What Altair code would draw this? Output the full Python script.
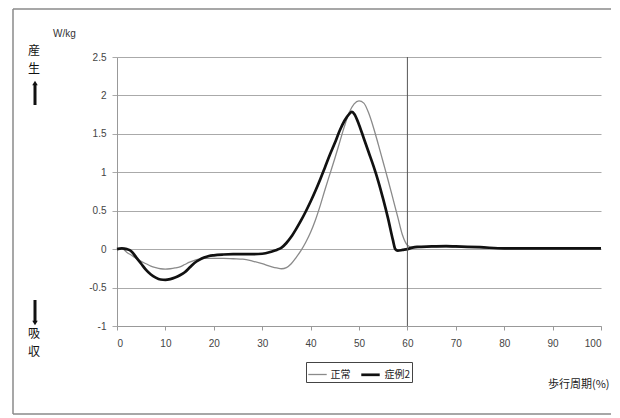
import altair as alt
import pandas as pd

# ---- data ----
series_names = ["正常", "症例2"]

x_normal = [0, 1, 2, 3, 4, 5, 6, 7, 8, 9, 10, 11, 12, 13, 14, 15, 16, 17, 18, 20, 22, 24, 26, 28, 30, 32, 33, 34, 35, 36, 37, 38, 39, 40, 41, 42, 43, 44, 45, 46, 47, 48, 49, 50, 51, 52, 53, 54, 55, 56, 57, 58, 59, 60, 61, 62, 64, 66, 68, 70, 75, 80, 85, 90, 95, 100]
y_normal = [0.01, 0.01, -0.04, -0.08, -0.12, -0.16, -0.19, -0.22, -0.24, -0.255, -0.26, -0.255, -0.245, -0.23, -0.2, -0.17, -0.145, -0.13, -0.12, -0.12, -0.12, -0.125, -0.13, -0.155, -0.19, -0.23, -0.245, -0.255, -0.24, -0.19, -0.11, -0.02, 0.09, 0.22, 0.38, 0.57, 0.78, 0.98, 1.18, 1.39, 1.6, 1.78, 1.89, 1.93, 1.9, 1.77, 1.58, 1.36, 1.13, 0.9, 0.66, 0.42, 0.18, 0.05, 0.02, 0.02, 0.03, 0.03, 0.03, 0.025, 0.02, 0.01, 0.01, 0.01, 0.01, 0.01]

x_case = [0, 1, 2, 3, 4, 5, 6, 7, 8, 9, 10, 11, 12, 13, 14, 15, 16, 17, 18, 19, 20, 22, 24, 26, 28, 30, 32, 33, 34, 35, 36, 37, 38, 39, 40, 41, 42, 43, 44, 45, 46, 47, 48, 48.5, 49, 50, 51, 52, 53, 54, 55, 56, 57, 57.5, 58, 59, 60, 61, 62, 65, 68, 70, 75, 80, 85, 90, 100]
y_case = [0.0, 0.01, 0.0, -0.03, -0.11, -0.19, -0.27, -0.33, -0.37, -0.395, -0.4, -0.39, -0.37, -0.34, -0.3, -0.24, -0.18, -0.14, -0.11, -0.09, -0.08, -0.07, -0.065, -0.065, -0.065, -0.06, -0.03, -0.01, 0.02, 0.08, 0.16, 0.26, 0.37, 0.49, 0.62, 0.76, 0.91, 1.07, 1.23, 1.38, 1.54, 1.67, 1.76, 1.785, 1.76, 1.62, 1.44, 1.26, 1.08, 0.88, 0.65, 0.4, 0.12, 0.0, -0.02, -0.01, 0.0, 0.02, 0.03, 0.035, 0.04, 0.035, 0.025, 0.01, 0.01, 0.01, 0.01]

x_ticks = [0, 10, 20, 30, 40, 50, 60, 70, 80, 90, 100]
y_ticks = [-1, -0.5, 0, 0.5, 1, 1.5, 2, 2.5]
marker_x = [60]

df = pd.concat([
    pd.DataFrame({"x": x_normal, "y": y_normal, "series": series_names[0]}),
    pd.DataFrame({"x": x_case, "y": y_case, "series": series_names[1]}),
])

JP = "Noto Sans CJK JP"
NUM = "Liberation Sans Narrow, Liberation Sans, Arial"

legend_spec = dict(
    orient="none", legendX=189, legendY=305, direction="horizontal", title=None,
    strokeColor="#444", padding=1.5, symbolType="stroke", symbolSize=340,
    labelFont=JP, labelFontSize=10, labelColor="#222", columnPadding=5,
    labelOffset=3, rowPadding=0,
)

lines = alt.Chart(df).mark_line(interpolate="monotone").encode(
    x=alt.X("x:Q", scale=alt.Scale(domain=[0, 100], nice=False),
            axis=alt.Axis(values=x_ticks, grid=False, title="歩行周期(%)",
                          titleFont=JP, titleFontSize=11, titleFontWeight="normal",
                          titleColor="#222", titleX=492, titleY=58, titleAlign="right",
                          titleBaseline="middle", labelFont=NUM, labelFontSize=10,
                          labelColor="#444", tickSize=4, tickColor="#999",
                          domainColor="#999", labelPadding=8)),
    y=alt.Y("y:Q", scale=alt.Scale(domain=[-1, 2.5], nice=False),
            axis=alt.Axis(values=y_ticks, grid=True, gridColor="#aaa", title="W/kg",
                          titleAngle=0, titleX=-53, titleY=-24, titleAlign="center",
                          titleBaseline="middle", titleFont=NUM, titleFontSize=10,
                          titleFontWeight="normal", titleColor="#333",
                          labelExpr="datum.value + ''", labelFont=NUM, labelFontSize=10,
                          labelColor="#444", tickSize=5, tickColor="#aaa",
                          domainColor="#999", labelPadding=6)),
    color=alt.Color("series:N", sort=series_names,
                    scale=alt.Scale(domain=series_names, range=["#8a8a8a", "#111111"]),
                    legend=alt.Legend(**legend_spec)),
    strokeWidth=alt.StrokeWidth("series:N", sort=series_names,
                                scale=alt.Scale(domain=series_names, range=[1.3, 2.7]),
                                legend=alt.Legend(**legend_spec)),
)

vline = alt.Chart(pd.DataFrame({"x": marker_x})).mark_rule(color="#555", strokeWidth=1).encode(x="x:Q")

one = pd.DataFrame({"a": [0]})

# outer frame: left, top and bottom edges only (right edge lies off the picture)
frame_left = alt.Chart(one).mark_rule(color="#8a8a8a", strokeWidth=1.5).encode(
    x=alt.value(-104), y=alt.value(-48), y2=alt.value(357))
frame_top = alt.Chart(one).mark_rule(color="#8a8a8a", strokeWidth=1.5).encode(
    x=alt.value(-104), x2=alt.value(494), y=alt.value(-48))
frame_bottom = alt.Chart(one).mark_rule(color="#8a8a8a", strokeWidth=1.5).encode(
    x=alt.value(-104), x2=alt.value(494), y=alt.value(357))


def jp_char(ch, ypix):
    return alt.Chart(one).mark_text(font=JP, fontSize=12, color="#111", baseline="middle").encode(
        x=alt.value(-83), y=alt.value(ypix), text=alt.value(ch))


shaft_up = alt.Chart(one).mark_rule(color="#111", strokeWidth=3).encode(
    x=alt.value(-82), y=alt.value(28), y2=alt.value(48))
head_up = alt.Chart(one).mark_point(shape="triangle-up", filled=True, color="#111", size=30, opacity=1).encode(
    x=alt.value(-82), y=alt.value(26))
shaft_dn = alt.Chart(one).mark_rule(color="#111", strokeWidth=3).encode(
    x=alt.value(-82), y=alt.value(243), y2=alt.value(264))
head_dn = alt.Chart(one).mark_point(shape="triangle-down", filled=True, color="#111", size=30, opacity=1).encode(
    x=alt.value(-82), y=alt.value(266))

chart = alt.layer(
    frame_left, frame_top, frame_bottom, lines, vline,
    jp_char("産", -6), jp_char("生", 12), jp_char("吸", 277), jp_char("収", 295),
    shaft_up, head_up, shaft_dn, head_dn,
).properties(
    width=484, height=269,
    autosize=alt.AutoSizeParams(type="none"),
    padding={"left": 109, "top": 49, "right": 10, "bottom": 90},
    background="white",
).configure_view(stroke=None)

chart.save("out.html", embed_options={"renderer": "svg", "actions": False})
